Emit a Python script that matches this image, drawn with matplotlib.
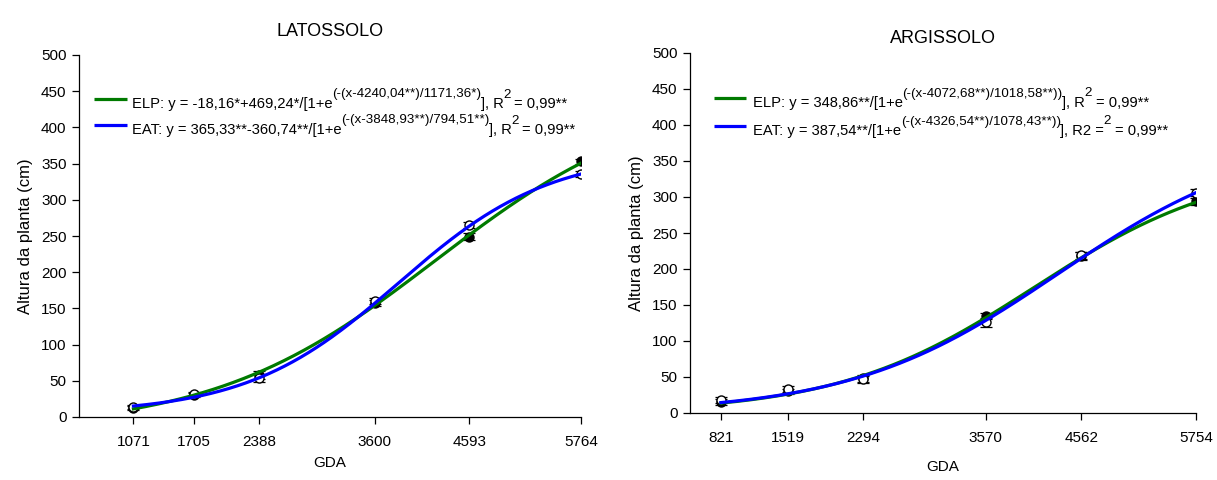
import numpy as np
import matplotlib
matplotlib.use("Agg")
import matplotlib.pyplot as plt
from matplotlib.lines import Line2D
from matplotlib.transforms import IdentityTransform

plt.rcParams['font.family'] = ['Liberation Sans', 'DejaVu Sans']

W, H = 1217, 480

# ---- data: LATOSSOLO ----
lat_x = [1071, 1705, 2388, 3600, 4593, 5764]
lat_elp = [12, 30, 58, 158, 249, 353]
lat_elp_err = [3, 3, 5, 4, 5, 4]
lat_eat = [14, 32, 54, 160, 265, 336]
lat_eat_err = [3, 3, 5, 4, 4, 4]
# fitted parameters (y0, a, x0, b)
lat_elp_fit = [-18.16, 469.24, 4240.04, 1171.36]
lat_eat_fit = [365.33, 360.74, 3848.93, 794.51]

# ---- data: ARGISSOLO ----
arg_x = [821, 1519, 2294, 3570, 4562, 5754]
arg_elp = [15, 30, 48, 135, 218, 294]
arg_elp_err = [4, 4, 5, 4, 5, 5]
arg_eat = [18, 33, 47, 126, 219, 306]
arg_eat_err = [4, 4, 5, 6, 5, 5]
arg_elp_fit = [0.0, 348.86, 4072.68, 1018.58]
arg_eat_fit = [0.0, 387.54, 4326.54, 1078.43]

# legend labels as (text, is_superscript) pieces
lat_labels = [
    [('ELP: y = -18,16*+469,24*/[1+e', 0), ('(-(x-4240,04**)/1171,36*)', 1),
     ('], R', 0), ('2', 1), (' = 0,99**', 0)],
    [('EAT: y = 365,33**-360,74**/[1+e', 0), ('(-(x-3848,93**)/794,51**)', 1),
     ('], R', 0), ('2', 1), (' = 0,99**', 0)],
]
arg_labels = [
    [('ELP: y = 348,86**/[1+e', 0), ('(-(x-4072,68**)/1018,58**))', 1),
     ('], R', 0), ('2', 1), (' = 0,99**', 0)],
    [('EAT: y = 387,54**/[1+e', 0), ('(-(x-4326,54**)/1078,43**))', 1),
     ('], R2 =', 0), ('2', 1), (' = 0,99**', 0)],
]

GREEN = '#007a00'
BLUE = '#0000ff'
MAIN_FS = 10.6
SUP_FS = 9.6
SUP_RISE = 10.5  # px


def logistic_up(x, p):
    y0, a, x0, b = p
    return y0 + a / (1 + np.exp(-(x - x0) / b))


def logistic_down(x, p):
    y0, a, x0, b = p
    return y0 - a / (1 + np.exp((x - x0) / b))


fig = plt.figure(figsize=(W / 100, H / 100), dpi=100)
ax1 = fig.add_axes([79 / W, 1 - 417 / H, 502 / W, 362 / H])
ax2 = fig.add_axes([690 / W, 1 - 413 / H, 506 / W, 360 / H])
renderer = fig.canvas.get_renderer()


def space_width(fs):
    a = fig.text(0, 0, 'a a', fontsize=fs, transform=IdentityTransform())
    b = fig.text(0, 0, 'aa', fontsize=fs, transform=IdentityTransform())
    w = a.get_window_extent(renderer).width - b.get_window_extent(renderer).width
    a.remove()
    b.remove()
    return w


SPW = space_width(MAIN_FS)


def rich_text(x_img, base_img, pieces):
    x = x_img
    for txt, sup in pieces:
        fs = SUP_FS if sup else MAIN_FS
        yb = H - base_img + (SUP_RISE if sup else 0)
        lead = len(txt) - len(txt.lstrip(' '))
        x += lead * SPW
        t = fig.text(x, yb, txt.lstrip(' '), fontsize=fs, ha='left', va='baseline',
                     transform=IdentityTransform())
        x += t.get_window_extent(renderer).width - 0.5


def legend(x_line0, x_line1, x_text, rows):
    for (ly, base, color, pieces) in rows:
        fig.add_artist(Line2D([x_line0 / W, x_line1 / W], [1 - ly / H, 1 - ly / H],
                              transform=fig.transFigure, color=color, lw=2.3,
                              solid_capstyle='butt'))
        rich_text(x_text, base, pieces)


def draw(ax, xs, elp, elp_err, eat, eat_err, fe, fa, f_elp, f_eat, title, tpad, xlpad):
    xx = np.linspace(xs[0], xs[-1], 400)
    ax.errorbar(xs, elp, yerr=elp_err, fmt='o', color='black', mfc='black', mec='black',
                ms=6.5, capsize=4, elinewidth=0.9, capthick=0.9, zorder=3)
    ax.errorbar(xs, eat, yerr=eat_err, fmt='o', color='black', mfc='white', mec='black',
                ms=6.5, capsize=4, elinewidth=0.9, capthick=0.9, zorder=3)
    ax.plot(xx, fe(xx, f_elp), color=GREEN, lw=2.3, zorder=4)
    ax.plot(xx, fa(xx, f_eat), color=BLUE, lw=2.3, zorder=5)
    ax.set_xlim(500, xs[-1])
    ax.set_ylim(0, 500)
    ax.set_xticks(xs)
    ax.set_xticklabels([str(v) for v in xs])
    ax.set_yticks(np.arange(0, 501, 50))
    for s in ['top', 'right']:
        ax.spines[s].set_visible(False)
    for s in ['left', 'bottom']:
        ax.spines[s].set_linewidth(0.9)
    ax.tick_params(axis='both', labelsize=11, length=5, width=0.9, direction='out', pad=8)
    ax.tick_params(axis='y', pad=4)
    ax.set_xlabel('GDA', fontsize=11, labelpad=xlpad)
    ax.set_ylabel('Altura da planta (cm)', fontsize=12, labelpad=6)
    ax.set_title(title, fontsize=13, pad=tpad)


draw(ax1, lat_x, lat_elp, lat_elp_err, lat_eat, lat_eat_err, logistic_up, logistic_down,
     lat_elp_fit, lat_eat_fit, 'LATOSSOLO', 14, 5)
draw(ax2, arg_x, arg_elp, arg_elp_err, arg_eat, arg_eat_err, logistic_up, logistic_up,
     arg_elp_fit, arg_eat_fit, 'ARGISSOLO', 7, 11)

legend(94, 127, 132, [(99, 108, GREEN, lat_labels[0]), (125, 134, BLUE, lat_labels[1])])
legend(714, 746, 753, [(98, 107, GREEN, arg_labels[0]), (126, 135, BLUE, arg_labels[1])])

fig.savefig('out.png', dpi=100)
